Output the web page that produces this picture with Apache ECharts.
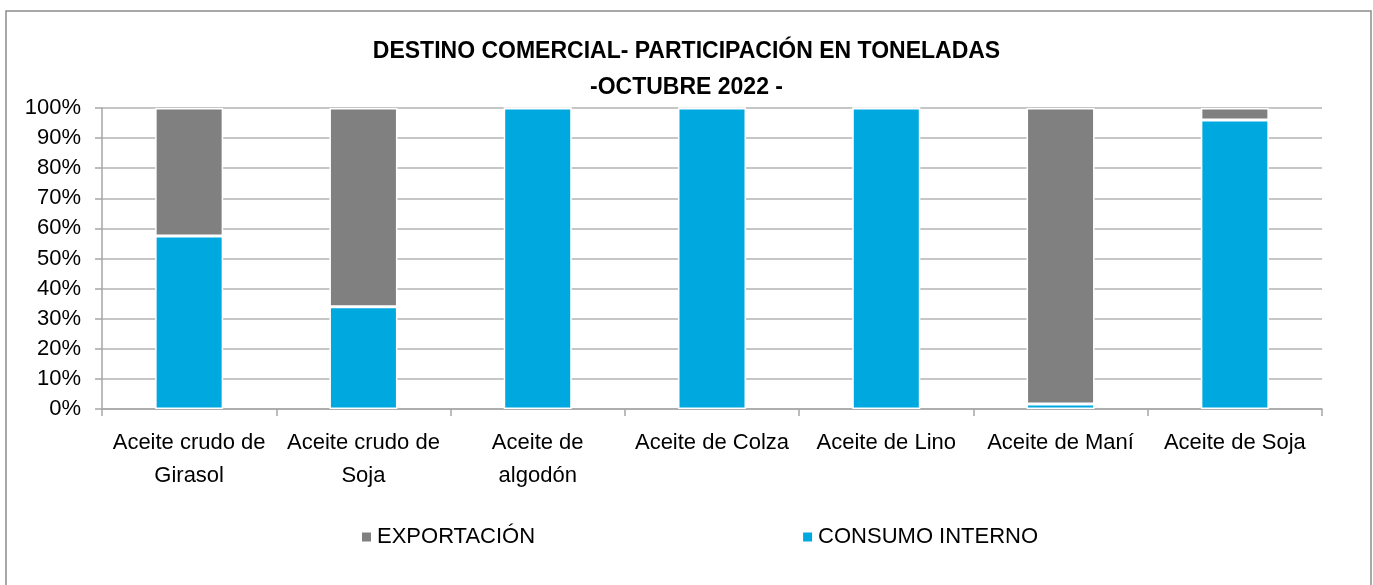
<!DOCTYPE html>
<html>
<head>
<meta charset="utf-8">
<script src="https://cdn.jsdelivr.net/npm/echarts@6/dist/echarts.min.js"></script>
<style>
  html, body { margin: 0; padding: 0; background: #fff; }
  #chart { width: 1373px; height: 585px; }
</style>
</head>
<body>
<div id="chart"></div>
<script>
// categorias (etiquetas del eje X)
const categories = [
  'Aceite crudo de\nGirasol',
  'Aceite crudo de\nSoja',
  'Aceite de\nalgodón',
  'Aceite de Colza',
  'Aceite de Lino',
  'Aceite de Maní',
  'Aceite de Soja'
]
// participacion en %
const consumoInterno = [57.5, 34, 100, 100, 100, 1.7, 96]
const exportacion = [42.5, 66, 0, 0, 0, 98.3, 4]
const yTicks = [0, 10, 20, 30, 40, 50, 60, 70, 80, 90, 100]

const FONT = '"Liberation Sans", Arial, sans-serif'
const chart = echarts.init(document.getElementById('chart'))

chart.setOption({
  animation: false,
  textStyle: { fontFamily: FONT },
  graphic: [{
    type: 'rect',
    shape: { x: 6, y: 11, width: 1365, height: 600 },
    style: { fill: 'none', stroke: '#8c8c8c', lineWidth: 1.5 },
    silent: true
  }],
  title: {
    text: 'DESTINO COMERCIAL- PARTICIPACIÓN EN TONELADAS\n-OCTUBRE 2022 -',
    left: 'center',
    top: 29,
    textStyle: {
      fontFamily: FONT,
      fontSize: 23,
      fontWeight: 'bold',
      color: '#000',
      lineHeight: 36
    }
  },
  legend: {
    data: ['EXPORTACIÓN', 'CONSUMO INTERNO'],
    top: 521,
    left: 355,
    itemGap: 266,
    itemWidth: 11,
    itemHeight: 11,
    icon: 'rect',
    textStyle: { fontFamily: FONT, fontSize: 22, color: '#000' }
  },
  grid: {
    left: 102,
    right: 51,
    top: 108,
    bottom: 176
  },
  xAxis: {
    type: 'category',
    data: categories,
    axisLine: { lineStyle: { color: '#a6a6a6', width: 1.5 } },
    axisTick: { show: true, length: 7, lineStyle: { color: '#a6a6a6', width: 1.5 } },
    axisLabel: {
      fontFamily: FONT,
      fontSize: 22,
      color: '#000',
      lineHeight: 33,
      margin: 17,
      interval: 0
    }
  },
  yAxis: {
    type: 'value',
    min: 0,
    max: 100,
    interval: 10,
    axisLine: { show: true, lineStyle: { color: '#a6a6a6', width: 1.5 } },
    axisTick: { show: true, length: 7, lineStyle: { color: '#a6a6a6', width: 1.5 } },
    splitLine: { lineStyle: { color: '#b3b3b3', width: 1.5 } },
    axisLabel: {
      fontFamily: FONT,
      fontSize: 22,
      color: '#000',
      margin: 21,
      customValues: yTicks,
      formatter: v => v + '%'
    }
  },
  series: [
    {
      name: 'CONSUMO INTERNO',
      type: 'bar',
      stack: 'total',
      data: consumoInterno,
      barWidth: 68,
      itemStyle: { color: '#00a8e0', borderColor: '#fff', borderWidth: 1.5 }
    },
    {
      name: 'EXPORTACIÓN',
      type: 'bar',
      stack: 'total',
      data: exportacion,
      barWidth: 68,
      itemStyle: { color: '#808080', borderColor: '#fff', borderWidth: 1.5 }
    }
  ]
})
</script>
</body>
</html>
